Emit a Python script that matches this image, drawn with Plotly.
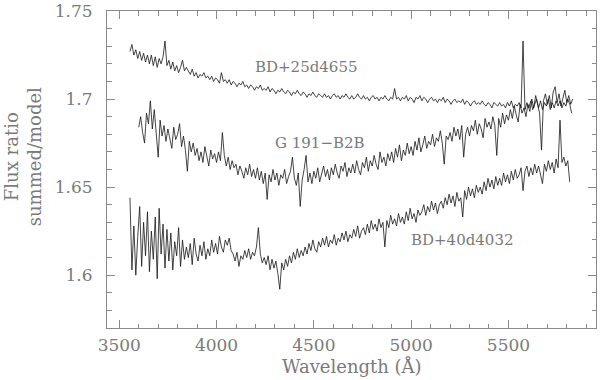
import plotly.graph_objects as go

# flux ratio (summed / model), sampled every 10 A
start1 = 3555
flux1 = [
    1.727, 1.731, 1.725, 1.728, 1.723, 1.727, 1.722, 1.726, 1.721, 1.725,
    1.720, 1.725, 1.719, 1.724, 1.718, 1.723, 1.720, 1.724, 1.733, 1.719,
    1.722, 1.717, 1.721, 1.716, 1.719, 1.715, 1.718, 1.722, 1.716, 1.718,
    1.716, 1.714, 1.717, 1.713, 1.715, 1.712, 1.714, 1.713, 1.715, 1.712,
    1.713, 1.711, 1.713, 1.710, 1.712, 1.711, 1.709, 1.715, 1.710, 1.711,
    1.709, 1.711, 1.708, 1.710, 1.709, 1.707, 1.709, 1.708, 1.710, 1.707,
    1.708, 1.706, 1.708, 1.707, 1.705, 1.707, 1.706, 1.708, 1.705, 1.706,
    1.705, 1.707, 1.704, 1.706, 1.705, 1.703, 1.705, 1.704, 1.706, 1.704,
    1.703, 1.705, 1.704, 1.702, 1.704, 1.703, 1.705, 1.703, 1.702, 1.704,
    1.703, 1.701, 1.703, 1.702, 1.704, 1.702, 1.701, 1.703, 1.702, 1.701,
    1.703, 1.701, 1.702, 1.700, 1.702, 1.703, 1.701, 1.702, 1.700, 1.702,
    1.701, 1.703, 1.701, 1.700, 1.702, 1.700, 1.701, 1.703, 1.701, 1.700,
    1.702, 1.700, 1.701, 1.699, 1.701, 1.702, 1.700, 1.701, 1.699, 1.701,
    1.700, 1.702, 1.700, 1.699, 1.701, 1.700, 1.706, 1.700, 1.701, 1.699,
    1.701, 1.700, 1.702, 1.699, 1.701, 1.700, 1.698, 1.701, 1.700, 1.702,
    1.699, 1.701, 1.700, 1.698, 1.700, 1.701, 1.699, 1.700, 1.698, 1.700,
    1.699, 1.701, 1.698, 1.700, 1.699, 1.697, 1.699, 1.700, 1.698, 1.699,
    1.698, 1.700, 1.697, 1.699, 1.698, 1.696, 1.698, 1.699, 1.697, 1.698,
    1.697, 1.699, 1.697, 1.696, 1.698, 1.697, 1.695, 1.698, 1.697, 1.696,
    1.698, 1.696, 1.697, 1.695, 1.698, 1.696, 1.699, 1.695, 1.697, 1.696,
    1.698, 1.695, 1.733, 1.694, 1.698, 1.695, 1.699, 1.694, 1.697, 1.700,
    1.695, 1.699, 1.694, 1.698, 1.696, 1.700, 1.694, 1.698, 1.695, 1.699,
    1.696, 1.699, 1.695, 1.698, 1.696, 1.700, 1.697, 1.692,
]

start2 = 3600
flux2 = [
    1.684, 1.690, 1.681, 1.675, 1.692, 1.686, 1.699, 1.683, 1.694, 1.680,
    1.667, 1.688, 1.679, 1.685, 1.676, 1.683, 1.678, 1.672, 1.684, 1.677,
    1.680, 1.686, 1.673, 1.679, 1.671, 1.659, 1.676, 1.670, 1.675, 1.668,
    1.672, 1.665, 1.670, 1.664, 1.673, 1.667, 1.662, 1.671, 1.666, 1.669,
    1.664, 1.670, 1.665, 1.681, 1.668, 1.662, 1.667, 1.660, 1.665, 1.661,
    1.663, 1.657, 1.662, 1.659, 1.655, 1.661, 1.657, 1.663, 1.656, 1.660,
    1.655, 1.661, 1.654, 1.659, 1.652, 1.658, 1.643, 1.657, 1.653, 1.660,
    1.654, 1.658, 1.651, 1.657, 1.655, 1.660, 1.652, 1.656, 1.659, 1.667,
    1.655, 1.651, 1.658, 1.639, 1.654, 1.660, 1.668, 1.653, 1.658, 1.652,
    1.659, 1.655, 1.661, 1.653, 1.658, 1.662, 1.656, 1.660, 1.654, 1.661,
    1.657, 1.663, 1.658, 1.655, 1.662, 1.659, 1.664, 1.656, 1.661, 1.658,
    1.663, 1.658, 1.665, 1.660, 1.657, 1.664, 1.661, 1.667, 1.659, 1.665,
    1.662, 1.668, 1.663, 1.660, 1.670, 1.664, 1.667, 1.662, 1.669, 1.665,
    1.670, 1.664, 1.672, 1.667, 1.674, 1.665, 1.671, 1.668, 1.675, 1.669,
    1.673, 1.668, 1.676, 1.671, 1.678, 1.670, 1.674, 1.679, 1.672, 1.676,
    1.674, 1.680, 1.673, 1.678, 1.676, 1.682, 1.675, 1.663, 1.679, 1.677,
    1.681, 1.676, 1.684, 1.679, 1.683, 1.677, 1.685, 1.667, 1.680, 1.684,
    1.679, 1.685, 1.682, 1.688, 1.680, 1.686, 1.683, 1.678, 1.689, 1.684,
    1.687, 1.683, 1.690, 1.685, 1.668, 1.689, 1.684, 1.692, 1.686, 1.691,
    1.688, 1.694, 1.689, 1.696, 1.691, 1.687, 1.697, 1.692, 1.695, 1.690,
    1.697, 1.693, 1.700, 1.695, 1.702, 1.696, 1.692, 1.671, 1.699, 1.703,
    1.697, 1.702, 1.695, 1.704, 1.707, 1.698, 1.703, 1.696, 1.701, 1.705,
    1.698, 1.702, 1.697, 1.700,
]

start3 = 3555
flux3 = [
    1.644, 1.603, 1.628, 1.600, 1.622, 1.639, 1.605, 1.630, 1.611, 1.636,
    1.602, 1.625, 1.609, 1.633, 1.598, 1.638, 1.612, 1.629, 1.604, 1.626,
    1.608, 1.624, 1.603, 1.619, 1.611, 1.627, 1.605, 1.620, 1.609, 1.616,
    1.610, 1.618, 1.606, 1.621, 1.612, 1.608, 1.617, 1.611, 1.619, 1.609,
    1.615, 1.611, 1.620, 1.613, 1.618, 1.612, 1.622, 1.616, 1.613, 1.620,
    1.617, 1.621, 1.614, 1.612, 1.608, 1.613, 1.605, 1.611, 1.609, 1.614,
    1.610, 1.615, 1.609, 1.613, 1.611, 1.616, 1.627, 1.612, 1.607, 1.610,
    1.606, 1.611, 1.603, 1.609, 1.604, 1.608, 1.601, 1.592, 1.607, 1.603,
    1.609, 1.605, 1.611, 1.607, 1.613, 1.609, 1.615, 1.610, 1.614, 1.611,
    1.616, 1.612, 1.618, 1.614, 1.620, 1.615, 1.613, 1.619, 1.616, 1.621,
    1.617, 1.622, 1.616, 1.620, 1.618, 1.623, 1.617, 1.621, 1.619, 1.624,
    1.620, 1.625, 1.619, 1.623, 1.621, 1.626, 1.622, 1.628, 1.621, 1.625,
    1.627, 1.623, 1.629, 1.624, 1.631, 1.626, 1.629, 1.625, 1.632, 1.627,
    1.630, 1.616, 1.631, 1.627, 1.634, 1.629, 1.632, 1.628, 1.635, 1.630,
    1.633, 1.629, 1.636, 1.631, 1.638, 1.632, 1.635, 1.630, 1.637, 1.634,
    1.636, 1.640, 1.634, 1.639, 1.636, 1.642, 1.637, 1.641, 1.635, 1.640,
    1.642, 1.638, 1.644, 1.640, 1.646, 1.641, 1.645, 1.639, 1.647, 1.642,
    1.644, 1.633, 1.648, 1.643, 1.650, 1.645, 1.649, 1.644, 1.651, 1.647,
    1.650, 1.646, 1.653, 1.648, 1.655, 1.650, 1.654, 1.649, 1.656, 1.651,
    1.655, 1.651, 1.658, 1.653, 1.657, 1.652, 1.659, 1.654, 1.660, 1.655,
    1.657, 1.661, 1.648, 1.659, 1.662, 1.656, 1.661, 1.657, 1.663, 1.658,
    1.662, 1.657, 1.652, 1.663, 1.659, 1.665, 1.660, 1.664, 1.658, 1.666,
    1.661, 1.688, 1.664, 1.667, 1.662, 1.665, 1.653,
]

star_names = ["BD+25d4655", "G 191\u2212B2B", "BD+40d4032"]
label_x = [4459, 4533, 5259]
label_y = [1.7184, 1.675, 1.6202]

GRAY = "#7a7a7a"
FONT = "DejaVu Serif"


def waves(start, flux):
    return [start + 10 * i for i in range(len(flux))]


fig = go.Figure()
for start, flux in [(start1, flux1), (start2, flux2), (start3, flux3)]:
    fig.add_trace(go.Scatter(
        x=waves(start, flux), y=flux, mode="lines",
        line=dict(color="#151515", width=0.8),
        showlegend=False, hoverinfo="skip",
    ))

for name, x, y in zip(star_names, label_x, label_y):
    fig.add_annotation(x=x, y=y, text=name, showarrow=False,
                       font=dict(family=FONT, size=15, color=GRAY))

# two-line rotated y title
fig.add_annotation(xref="paper", yref="paper", x=-0.173, y=0.54,
                   xanchor="center", yanchor="middle",
                   text="Flux ratio<br>summed/model", showarrow=False,
                   textangle=-90, font=dict(family=FONT, size=18, color=GRAY))
# x title
fig.add_annotation(xref="paper", yref="paper", x=0.5, y=-0.123, yanchor="middle",
                   text="Wavelength (\u00c5)", showarrow=False,
                   font=dict(family=FONT, size=18, color=GRAY))

axis_common = dict(
    showline=True, linecolor="#8a8a8a", linewidth=1, mirror="ticks",
    ticks="inside", ticklen=8, tickcolor="#8a8a8a", tickwidth=1,
    showgrid=False, zeroline=False, automargin=False,
    ticklabeloverflow="allow",
    tickfont=dict(family=FONT, size=17, color=GRAY),
)

fig.update_xaxes(
    range=[3437, 5950], tick0=3500, dtick=500,
    minor=dict(dtick=100, ticks="inside", ticklen=4.5, tickcolor="#8a8a8a", showgrid=False),
    ticklabelstandoff=2,
    **axis_common,
)
fig.update_yaxes(
    range=[1.57, 1.75001], tick0=1.6, dtick=0.05, tickformat=".2~f",
    minor=dict(dtick=0.01, ticks="inside", ticklen=4.5, tickcolor="#8a8a8a", showgrid=False),
    ticklabelstandoff=10,
    **axis_common,
)

fig.update_layout(
    width=600, height=380,
    margin=dict(l=107, r=4, t=11, b=52),
    plot_bgcolor="white", paper_bgcolor="white",
)

# drop the default 8px page margin so the figure fills the window
fig.write_html("out.html", config={"displayModeBar": False},
               post_script="document.body.style.margin='0';")
